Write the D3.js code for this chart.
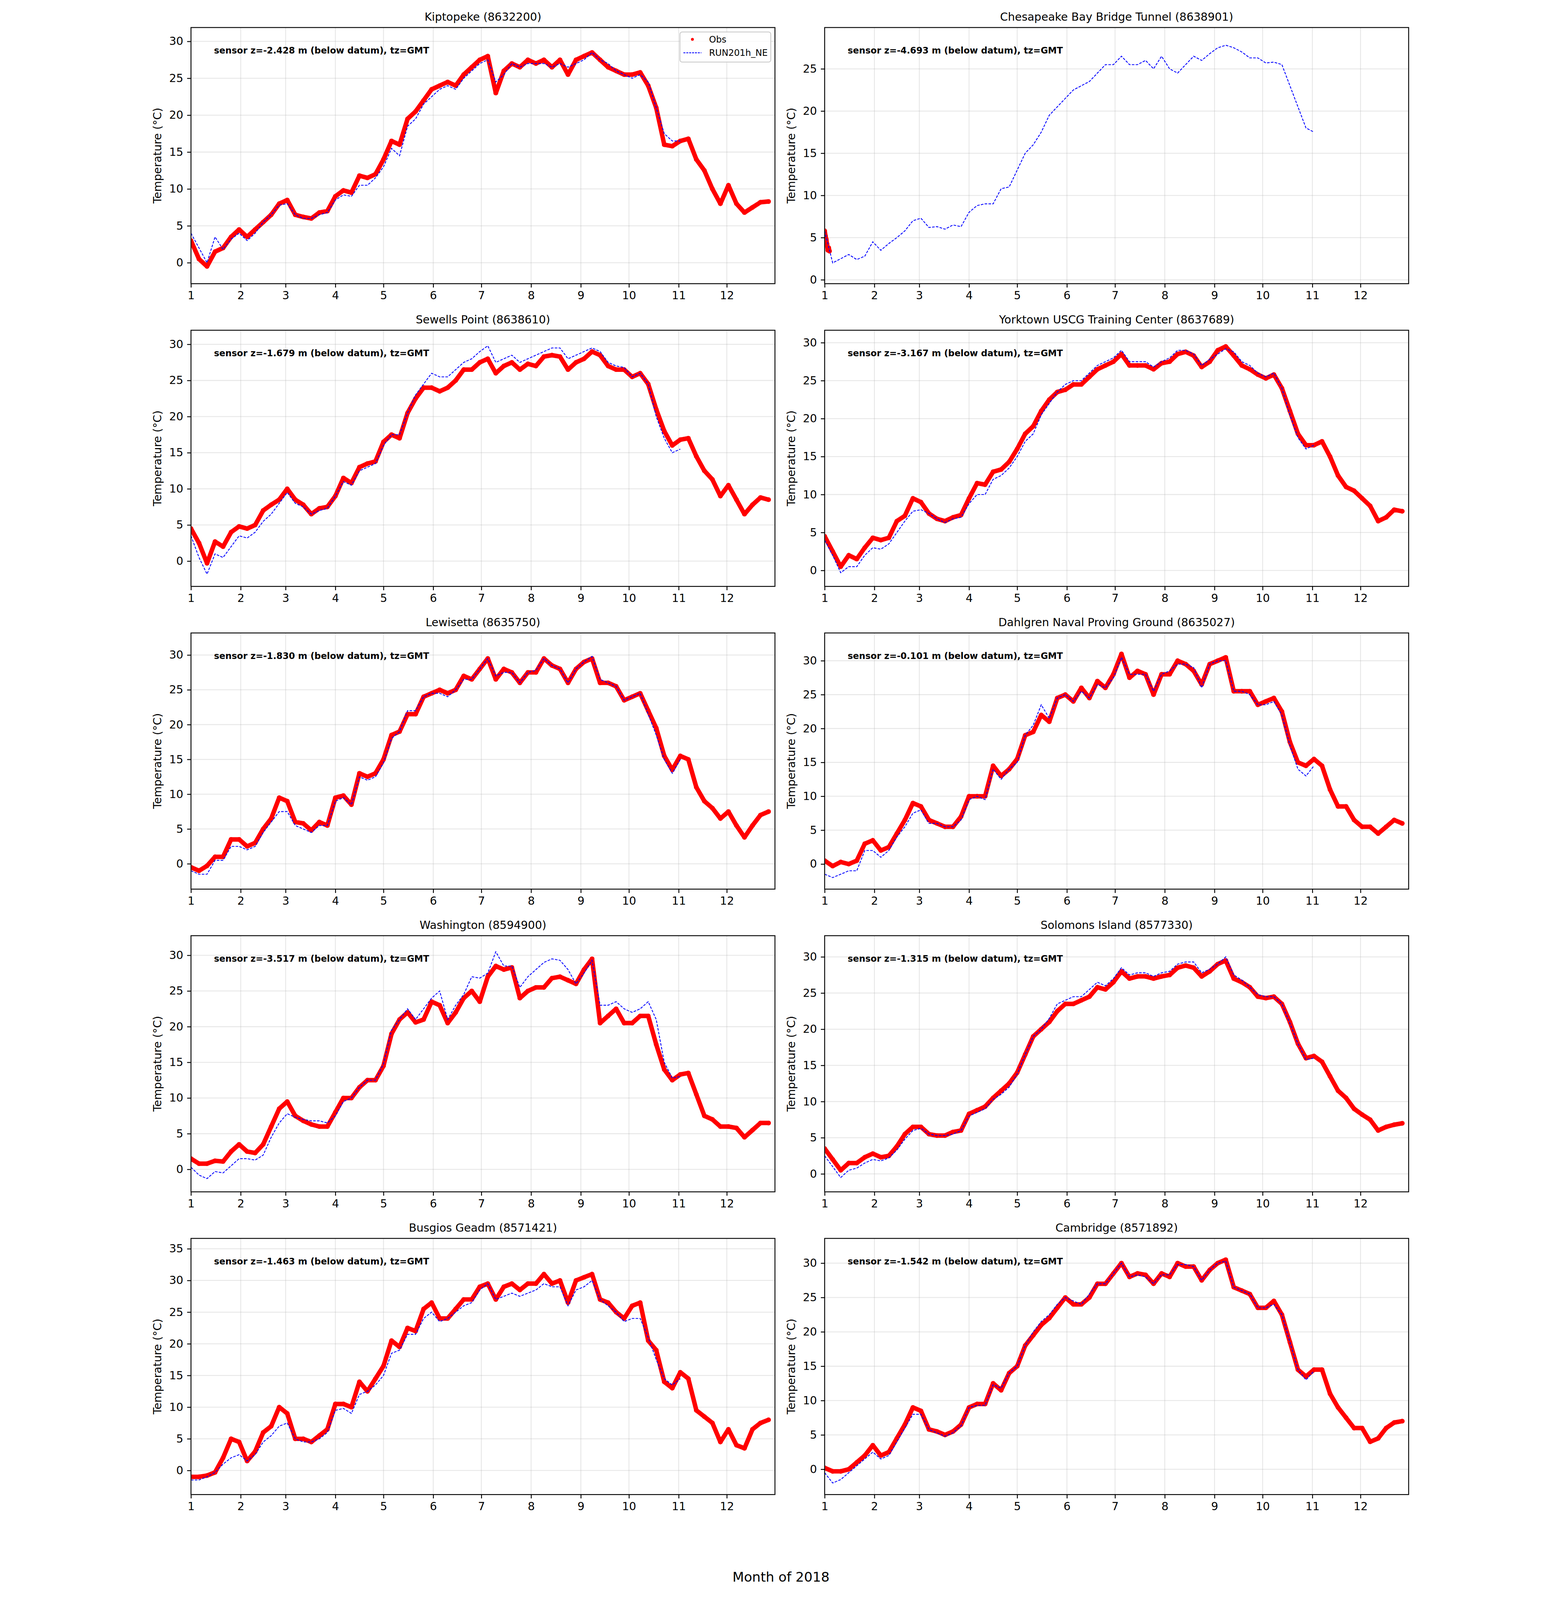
<!DOCTYPE html>
<html>
<head>
<meta charset="utf-8">
<script src="https://cdn.jsdelivr.net/npm/d3@7"></script>
<style>
  html, body { margin: 0; padding: 0; background: #fff; overflow: hidden; }
  svg { display: block; }
  text { font-family: "DejaVu Sans", sans-serif; fill: #000; }
</style>
</head>
<body>
<svg id="chart"></svg>
<script>
// day of year for every sample (one every 5 days)
const days = [1,6,11,16,21,26,31,36,41,46,51,56,61,66,71,76,81,86,91,96,
  101,106,111,116,121,126,131,136,141,146,151,156,161,166,171,176,181,186,191,196,
  201,206,211,216,221,226,231,236,241,246,251,256,261,266,271,276,281,286,291,296,
  301,306,311,316,321,326,331,336,341,346,351,356,361];
const monthTicks = [1,2,3,4,5,6,7,8,9,10,11,12];
const yTickValues = [0,5,10,15,20,25,30,35];

const stationTitles = ["Kiptopeke (8632200)", "Chesapeake Bay Bridge Tunnel (8638901)",
  "Sewells Point (8638610)", "Yorktown USCG Training Center (8637689)",
  "Lewisetta (8635750)", "Dahlgren Naval Proving Ground (8635027)",
  "Washington (8594900)", "Solomons Island (8577330)",
  "Busgios Geadm (8571421)", "Cambridge (8571892)"];
const sensorDepths = ["-2.428", "-4.693", "-1.679", "-3.167", "-1.830",
  "-0.101", "-3.517", "-1.315", "-1.463", "-1.542"];
const yLimits = [[-2.84,31.88],[-0.46,29.9],[-3.5,31.95],[-2.1,31.64],[-3.64,33.17],
  [-3.7,34.1],[-3.15,32.75],[-2.48,32.93],[-3.8,36.64],[-3.68,33.6]];

const kiptopekeObs = [3.0,0.5,-0.5,1.5,2.0,3.5,4.5,3.5,4.5,5.5,
  6.5,8.0,8.5,6.5,6.2,6.0,6.8,7.0,9.0,9.8,
  9.5,11.8,11.5,12.0,14.0,16.5,16.0,19.5,20.5,22.0,
  23.5,24.0,24.5,24.0,25.5,26.5,27.5,28.0,23.0,26.0,
  27.0,26.5,27.5,27.0,27.5,26.5,27.5,25.5,27.5,28.0,
  28.5,27.5,26.5,26.0,25.5,25.5,25.8,24.0,21.0,16.0,
  15.8,16.5,16.8,14.0,12.5,10.0,8.0,10.5,8.0,6.8,
  7.5,8.2,8.3];
const kiptopekeModel = [4.0,2.0,0.0,3.5,1.8,3.2,4.0,3.0,4.0,5.5,
  6.5,7.8,8.0,6.5,6.0,6.0,6.5,6.8,8.5,9.2,
  9.0,10.5,10.5,11.5,13.0,15.5,14.5,18.5,19.5,21.5,
  22.5,23.5,24.0,23.5,25.0,26.0,27.0,27.5,24.5,25.5,
  27.0,26.5,27.0,27.0,27.0,26.5,27.0,26.5,27.0,27.5,
  28.5,27.5,27.0,26.0,25.5,25.0,25.5,24.5,21.0,17.5,
  16.5,16.5];

// the bridge tunnel gauge only reported for the first days of January
const cbbtObsDays = [1,1.5,2,2.5,3,3.5,4];
const cbbtObs = [5.8,5.2,4.8,4.2,3.5,3.8,3.4];
const cbbtModel = [5.8,2.0,2.5,3.0,2.4,2.8,4.5,3.5,4.3,5.0,
  5.8,7.0,7.3,6.2,6.3,6.0,6.5,6.3,8.0,8.8,
  9.0,9.0,10.8,11.0,13.0,15.0,16.0,17.5,19.5,20.5,
  21.5,22.5,23.0,23.5,24.5,25.5,25.5,26.5,25.5,25.5,
  26.0,25.0,26.5,25.0,24.5,25.5,26.5,26.0,26.8,27.5,
  27.8,27.5,27.0,26.3,26.3,25.7,25.8,25.5,23.0,20.5,
  18.0,17.5];

const sewellsObs = [4.5,2.5,-0.3,2.7,2.0,4.0,4.8,4.5,5.0,7.0,
  7.8,8.5,10.0,8.5,7.8,6.5,7.3,7.5,9.0,11.5,
  10.8,13.0,13.5,13.8,16.5,17.5,17.0,20.5,22.5,24.0,
  24.0,23.5,24.0,25.0,26.5,26.5,27.5,28.0,26.0,27.0,
  27.5,26.5,27.3,27.0,28.3,28.5,28.3,26.5,27.5,28.0,
  29.0,28.5,27.0,26.5,26.5,25.5,26.0,24.5,21.0,18.0,
  16.0,16.8,17.0,14.5,12.5,11.3,9.0,10.5,8.5,6.5,
  7.8,8.8,8.5];
const sewellsModel = [3.5,0.5,-1.8,1.0,0.5,2.0,3.5,3.2,4.0,5.5,
  6.5,8.0,9.5,8.0,7.5,6.5,7.0,7.3,9.0,11.0,
  10.5,12.5,13.0,13.5,16.0,17.5,17.5,20.5,23.0,24.5,
  26.0,25.5,25.5,26.5,27.5,28.0,29.0,29.8,27.5,28.0,
  28.5,27.5,28.0,28.5,29.0,29.5,29.5,28.0,28.5,29.0,
  29.5,29.0,27.5,27.0,26.8,25.5,26.0,24.5,20.0,17.0,
  15.0,15.5];

const yorktownObs = [4.5,2.5,0.5,2.0,1.5,3.0,4.3,4.0,4.3,6.5,
  7.2,9.5,9.0,7.5,6.8,6.5,7.0,7.3,9.5,11.5,
  11.3,13.0,13.3,14.3,16.0,18.0,19.0,21.0,22.5,23.5,
  23.8,24.5,24.5,25.5,26.5,27.0,27.5,28.5,27.0,27.0,
  27.0,26.5,27.3,27.5,28.5,28.8,28.3,26.8,27.5,29.0,
  29.5,28.3,27.0,26.5,25.8,25.3,25.8,24.0,21.0,18.0,
  16.5,16.5,17.0,15.0,12.5,11.0,10.5,9.5,8.5,6.5,
  7.0,8.0,7.8];
const yorktownModel = [4.0,2.0,-0.3,0.5,0.5,2.0,3.0,2.8,3.5,5.0,
  6.5,7.8,8.0,7.5,6.8,6.3,6.8,7.0,8.8,10.0,
  10.0,12.0,12.5,13.5,15.0,17.0,18.0,20.5,22.0,23.5,
  24.5,25.0,25.0,26.0,27.0,27.5,28.0,29.0,27.5,27.5,
  27.5,26.8,27.5,28.0,29.0,29.0,28.5,27.0,27.8,28.5,
  29.2,28.8,27.5,27.0,26.0,25.5,26.0,24.0,20.5,17.5,
  16.0,16.5];

const lewisettaObs = [-0.5,-1.0,-0.3,1.0,1.0,3.5,3.5,2.5,3.0,5.0,
  6.5,9.5,9.0,6.0,5.8,4.8,6.0,5.5,9.5,9.8,
  8.5,13.0,12.5,13.0,15.0,18.5,19.0,21.5,21.5,24.0,
  24.5,25.0,24.5,25.0,27.0,26.5,28.0,29.5,26.5,28.0,
  27.5,26.0,27.5,27.5,29.5,28.5,28.0,26.0,28.0,29.0,
  29.5,26.0,26.0,25.5,23.5,24.0,24.5,22.0,19.5,15.5,
  13.5,15.5,15.0,11.0,9.0,8.0,6.5,7.5,5.5,3.8,
  5.5,7.0,7.5];
const lewisettaModel = [-1.0,-1.5,-1.5,0.5,0.5,2.5,2.5,2.0,2.5,4.5,
  6.0,7.5,7.5,5.5,5.0,4.5,5.5,5.5,9.0,9.5,
  8.5,12.5,12.0,12.5,14.5,18.0,19.0,22.0,22.0,24.0,
  24.5,24.5,24.0,25.0,26.5,26.5,28.0,29.5,27.0,27.5,
  27.5,26.0,27.5,27.8,29.5,28.5,28.0,26.0,28.0,29.0,
  29.8,26.5,26.0,25.5,23.5,24.0,24.5,21.5,18.5,15.0,
  13.0,15.0];

const dahlgrenObs = [0.5,-0.3,0.3,0.0,0.5,3.0,3.5,2.0,2.5,4.5,
  6.5,9.0,8.5,6.5,6.0,5.5,5.5,7.0,10.0,10.0,
  10.0,14.5,13.0,14.0,15.5,19.0,19.5,22.0,21.0,24.5,
  25.0,24.0,26.0,24.5,27.0,26.0,28.0,31.0,27.5,28.5,
  28.0,25.0,28.0,28.0,30.0,29.5,28.5,26.5,29.5,30.0,
  30.5,25.5,25.5,25.5,23.5,24.0,24.5,22.5,18.0,15.0,
  14.5,15.5,14.5,11.0,8.5,8.5,6.5,5.5,5.5,4.5,
  5.5,6.5,6.0];
const dahlgrenModel = [-1.5,-2.0,-1.5,-1.0,-1.0,2.0,2.0,1.0,2.0,4.0,
  5.5,7.5,8.0,6.0,6.0,5.5,5.5,6.5,9.5,10.0,
  9.5,14.0,12.5,14.0,15.0,19.0,20.5,23.5,21.5,24.5,
  25.0,24.0,25.5,24.5,26.5,26.0,27.5,30.5,28.0,28.0,
  28.0,25.5,28.0,28.5,29.5,29.5,29.0,26.0,29.5,30.0,
  30.0,25.5,25.5,25.0,23.5,23.5,24.0,22.0,17.5,14.0,
  13.0,14.5];

const washingtonObs = [1.5,0.8,0.8,1.2,1.1,2.5,3.5,2.5,2.3,3.5,
  6.0,8.5,9.5,7.5,6.8,6.3,6.0,6.0,8.0,10.0,
  10.0,11.5,12.5,12.5,14.5,19.0,21.0,22.0,20.6,21.0,
  23.5,23.0,20.5,22.0,24.0,25.0,23.5,27.0,28.5,28.0,
  28.3,24.0,25.0,25.5,25.5,26.8,27.0,26.5,26.0,28.0,
  29.5,20.5,21.5,22.5,20.5,20.5,21.5,21.5,17.5,14.0,
  12.5,13.3,13.5,10.5,7.5,7.0,6.0,6.0,5.8,4.5,
  5.5,6.5,6.5];
const washingtonModel = [0.3,-0.8,-1.3,-0.3,-0.5,0.5,1.5,1.5,1.3,2.0,
  4.5,6.5,7.8,7.3,7.0,6.8,6.8,6.5,7.5,9.5,
  10.0,11.5,12.5,12.5,14.8,19.5,21.0,22.5,21.0,22.5,
  24.0,25.0,21.0,23.0,24.5,27.0,26.8,27.5,30.5,28.5,
  28.5,25.5,27.0,28.0,29.0,29.5,29.3,28.0,26.0,27.5,
  29.3,23.0,23.0,23.5,22.5,22.0,22.5,23.5,21.0,15.0,
  12.8,13.0];

const solomonsObs = [3.5,2.0,0.5,1.5,1.5,2.3,2.8,2.3,2.5,3.8,
  5.5,6.5,6.5,5.5,5.3,5.3,5.8,6.0,8.3,8.8,
  9.3,10.5,11.5,12.5,14.0,16.5,19.0,20.0,21.0,22.5,
  23.5,23.5,24.0,24.5,25.8,25.5,26.5,28.0,27.0,27.3,
  27.3,27.0,27.3,27.5,28.5,28.8,28.5,27.3,28.0,29.0,
  29.5,27.0,26.5,25.8,24.5,24.3,24.5,23.5,21.0,18.0,
  16.0,16.3,15.5,13.5,11.5,10.5,9.0,8.2,7.5,6.0,
  6.5,6.8,7.0];
const solomonsModel = [2.5,1.0,-0.5,0.5,0.8,1.5,2.0,1.8,2.2,3.3,
  4.8,6.0,6.3,5.5,5.3,5.3,5.5,6.0,8.0,8.5,
  9.0,10.3,11.0,12.0,13.8,16.5,19.0,20.0,21.5,23.5,
  24.0,24.5,24.5,25.5,26.5,26.0,27.0,28.5,27.5,27.8,
  27.8,27.3,27.8,28.0,29.0,29.3,29.3,27.8,28.3,29.0,
  30.0,27.5,26.8,25.8,24.8,24.5,24.5,23.5,20.8,18.0,
  15.8,16.0];

const busgiosObs = [-1.0,-1.0,-0.8,-0.3,2.0,5.0,4.5,1.5,3.0,6.0,
  7.0,10.0,9.0,5.0,5.0,4.5,5.5,6.5,10.5,10.5,
  10.0,14.0,12.5,14.5,16.5,20.5,19.5,22.5,22.0,25.5,
  26.5,24.0,24.0,25.5,27.0,27.0,29.0,29.5,27.0,29.0,
  29.5,28.5,29.5,29.5,31.0,29.5,30.0,26.5,30.0,30.5,
  31.0,27.0,26.5,25.0,24.0,26.0,26.5,20.5,19.0,14.0,
  13.0,15.5,14.5,9.5,8.5,7.5,4.5,6.5,4.0,3.5,
  6.5,7.5,8.0];
const busgiosModel = [-1.5,-1.5,-1.0,-0.3,1.0,2.0,2.5,1.5,2.5,4.5,
  5.5,7.0,7.5,5.0,4.5,4.5,5.0,6.0,9.5,9.8,
  9.0,12.0,12.5,13.5,15.0,18.5,19.0,21.5,21.5,24.0,
  25.0,23.5,24.0,25.0,26.0,26.5,28.5,29.5,27.0,27.5,
  28.0,27.5,28.0,28.5,29.5,29.0,29.0,26.0,28.5,29.0,
  30.0,27.0,26.0,25.0,23.5,24.0,24.0,21.0,17.5,14.5,
  13.5,14.5];

const cambridgeObs = [0.2,-0.3,-0.3,0.0,1.0,2.0,3.5,2.0,2.5,4.5,
  6.5,9.0,8.5,5.8,5.5,5.0,5.5,6.5,9.0,9.5,
  9.5,12.5,11.5,14.0,15.0,18.0,19.5,21.0,22.0,23.5,
  25.0,24.0,24.0,25.0,27.0,27.0,28.5,30.0,28.0,28.5,
  28.3,27.0,28.5,28.0,30.0,29.5,29.5,27.5,29.0,30.0,
  30.5,26.5,26.0,25.5,23.5,23.5,24.5,22.5,18.5,14.5,
  13.5,14.5,14.5,11.0,9.0,7.5,6.0,6.0,4.0,4.5,
  6.0,6.8,7.0];
const cambridgeModel = [-0.5,-2.0,-1.5,-0.5,0.5,1.5,2.5,1.5,2.0,4.0,
  6.0,8.0,8.0,5.8,5.3,4.8,5.3,6.3,9.0,9.3,
  9.3,12.3,11.8,14.0,15.0,18.0,20.0,21.5,22.5,24.0,
  25.0,24.5,24.0,25.5,27.0,27.0,28.5,30.0,28.0,28.3,
  28.0,27.0,28.3,28.3,29.8,29.8,29.5,27.5,29.0,30.0,
  30.3,26.5,26.0,25.5,23.5,23.5,24.0,22.5,18.5,14.5,
  13.0,14.3];

const obsSeries = [kiptopekeObs, cbbtObs, sewellsObs, yorktownObs, lewisettaObs,
  dahlgrenObs, washingtonObs, solomonsObs, busgiosObs, cambridgeObs];
const modelSeries = [kiptopekeModel, cbbtModel, sewellsModel, yorktownModel, lewisettaModel,
  dahlgrenModel, washingtonModel, solomonsModel, busgiosModel, cambridgeModel];

// figure layout (px, in a 4000 x 5000 figure)
const W = 4000, H = 5000;
const colX = [155.6, 2136.5];
const rowY = [86, 1032, 1978, 2924, 3870];
const axW = 1825.5, axH = 800.5;
const tickFont = 34.7;

// fit the whole figure into the window
const vw = window.innerWidth || W, vh = window.innerHeight || H;
const svg = d3.select("#chart")
  .attr("width", vw).attr("height", vh)
  .attr("viewBox", `0 0 ${W} ${H}`)
  .attr("preserveAspectRatio", "xMidYMin meet");
svg.append("rect").attr("width", W).attr("height", H).attr("fill", "#fff");

const toDate = d => new Date(Date.UTC(2018, 0, 1) + (d - 1) * 86400000);

function toPoints(dayList, values) {
  return values.map((v, i) => ({ date: toDate(dayList[i]), v: v }));
}

stationTitles.forEach(function(title, i) {
  const col = i % 2, row = Math.floor(i / 2);
  const g = svg.append("g").attr("transform", `translate(${colX[col]},${rowY[row]})`);

  const x = d3.scaleUtc()
    .domain([toDate(1), toDate(365)])
    .range([0, axW]);
  const y = d3.scaleLinear().domain(yLimits[i]).range([axH, 0]);
  const monthDates = monthTicks.map(m => new Date(Date.UTC(2018, m - 1, 1)));
  const yTicks = yTickValues.filter(v => v >= yLimits[i][0] && v <= yLimits[i][1]);

  // grid
  g.append("g").selectAll("line.vg").data(monthDates).enter().append("line")
    .attr("x1", d => x(d)).attr("x2", d => x(d))
    .attr("y1", 0).attr("y2", axH)
    .attr("stroke", "#b0b0b0").attr("stroke-opacity", 0.3).attr("stroke-width", 2.8);
  g.append("g").selectAll("line.hg").data(yTicks).enter().append("line")
    .attr("x1", 0).attr("x2", axW)
    .attr("y1", d => y(d)).attr("y2", d => y(d))
    .attr("stroke", "#b0b0b0").attr("stroke-opacity", 0.3).attr("stroke-width", 2.8);

  const clipId = "clip" + i;
  g.append("clipPath").attr("id", clipId)
    .append("rect").attr("width", axW).attr("height", axH);
  const plot = g.append("g").attr("clip-path", `url(#${clipId})`);

  const obsPts = toPoints(i === 1 ? cbbtObsDays : days, obsSeries[i]);
  const modelPts = toPoints(days, modelSeries[i]);
  const line = d3.line().x(d => x(d.date)).y(d => y(d.v));

  // observations: dense red markers
  plot.append("path").datum(obsPts)
    .attr("d", line)
    .attr("fill", "none").attr("stroke", "#ff0000")
    .attr("stroke-width", 14).attr("stroke-linejoin", "round").attr("stroke-linecap", "round");
  plot.selectAll("circle.obs").data(obsPts).enter().append("circle")
    .attr("cx", d => x(d.date)).attr("cy", d => y(d.v))
    .attr("r", 7.5).attr("fill", "#ff0000");

  // model run
  plot.append("path").datum(modelPts)
    .attr("d", line)
    .attr("fill", "none").attr("stroke", "#0000ff")
    .attr("stroke-width", 2.6).attr("stroke-dasharray", "8,4");

  // axes
  const xAxis = d3.axisBottom(x).tickValues(monthDates)
    .tickFormat(d => d.getUTCMonth() + 1).tickSize(12).tickPadding(12);
  const yAxis = d3.axisLeft(y).tickValues(yTicks).tickSize(12).tickPadding(12);
  const gx = g.append("g").attr("transform", `translate(0,${axH})`).call(xAxis);
  const gy = g.append("g").call(yAxis);
  [gx, gy].forEach(a => {
    a.select(".domain").remove();
    a.selectAll("line").attr("stroke", "#000").attr("stroke-width", 2.8);
    a.selectAll("text").attr("font-size", tickFont)
      .attr("font-family", "DejaVu Sans, sans-serif").attr("fill", "#000");
  });

  g.append("rect").attr("width", axW).attr("height", axH)
    .attr("fill", "none").attr("stroke", "#000").attr("stroke-width", 2.8);

  g.append("text").attr("x", axW / 2).attr("y", -21)
    .attr("text-anchor", "middle").attr("font-size", tickFont).text(title);

  g.append("text")
    .attr("transform", `translate(-104.6,${axH / 2}) rotate(-90)`)
    .attr("text-anchor", "middle").attr("dominant-baseline", "central")
    .attr("font-size", tickFont).text("Temperature (°C)");

  g.append("text").attr("x", 72).attr("y", 81)
    .attr("font-size", 27.8).attr("font-weight", "bold")
    .text(`sensor z=${sensorDepths[i]} m (below datum), tz=GMT`);

  if (i === 0) {
    const lg = g.append("g").attr("transform", `translate(${axW - 297},14)`);
    lg.append("rect").attr("width", 284).attr("height", 94).attr("rx", 7)
      .attr("fill", "#fff").attr("fill-opacity", 0.8)
      .attr("stroke", "#cccccc").attr("stroke-width", 2.8);
    lg.append("circle").attr("cx", 39).attr("cy", 23).attr("r", 4.5).attr("fill", "#ff0000");
    lg.append("line").attr("x1", 11).attr("x2", 67).attr("y1", 65).attr("y2", 65)
      .attr("stroke", "#0000ff").attr("stroke-width", 2.6).attr("stroke-dasharray", "6,3");
    lg.append("text").attr("x", 91).attr("y", 33).attr("font-size", 27.8).text("Obs");
    lg.append("text").attr("x", 91).attr("y", 75).attr("font-size", 27.8).text("RUN201h_NE");
  }
});

svg.append("text").attr("x", 2000).attr("y", 4943)
  .attr("text-anchor", "middle").attr("font-size", 41.7).text("Month of 2018");
</script>
</body>
</html>
